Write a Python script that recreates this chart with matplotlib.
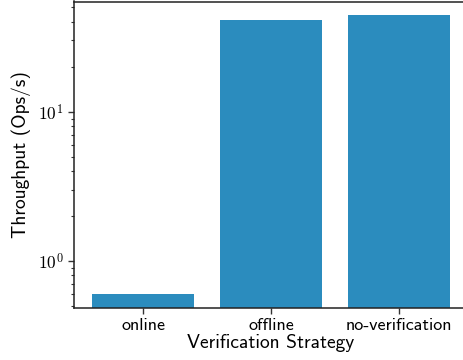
import math
import matplotlib
matplotlib.use("Agg")
import matplotlib.pyplot as plt
from matplotlib.ticker import FuncFormatter, LogLocator

strategies = ["online", "offline", "no-verification"]
throughput = [0.60, 41.0, 44.5]

plt.rcParams["font.family"] = ["cmss10", "DejaVu Sans"]
plt.rcParams["mathtext.fontset"] = "cm"
plt.rcParams["axes.unicode_minus"] = False

W, H = 463, 360
fig = plt.figure(figsize=(W / 100, H / 100), dpi=100)
left, right, bottom, top = 74, 468, 308, 1.5
ax = fig.add_axes([left / W, 1 - bottom / H, (right - left) / W, (bottom - top) / H])

x = range(len(strategies))
ax.bar(x, throughput, width=0.8, color="#2b8cbe", zorder=2)
ax.set_yscale("log")
ax.set_ylim(0.484, 54.7)
ax.set_xlim(-0.545, 2.545)

ax.set_xticks(list(x))
ax.set_xticklabels(strategies, fontsize=13)
ax.yaxis.set_major_locator(LogLocator(base=10))
ax.yaxis.set_major_formatter(FuncFormatter(lambda v, p: r"$10^{%d}$" % round(math.log10(v))))
ax.tick_params(axis="y", which="major", labelsize=12.5, length=4, width=1, color="#333333")
ax.tick_params(axis="y", which="minor", length=2.5, width=0.8, color="#333333")
ax.tick_params(axis="x", length=4, width=1, color="#333333", pad=3)

for s in ["left", "bottom", "top"]:
    ax.spines[s].set_color("#222222")
    ax.spines[s].set_linewidth(1.1)
ax.spines["right"].set_visible(False)

ax.set_xlabel("Verification Strategy", fontsize=14, labelpad=1)
ax.set_ylabel("Throughput (Ops/s)", fontsize=14, labelpad=5)

fig.savefig("out.png", dpi=100)
